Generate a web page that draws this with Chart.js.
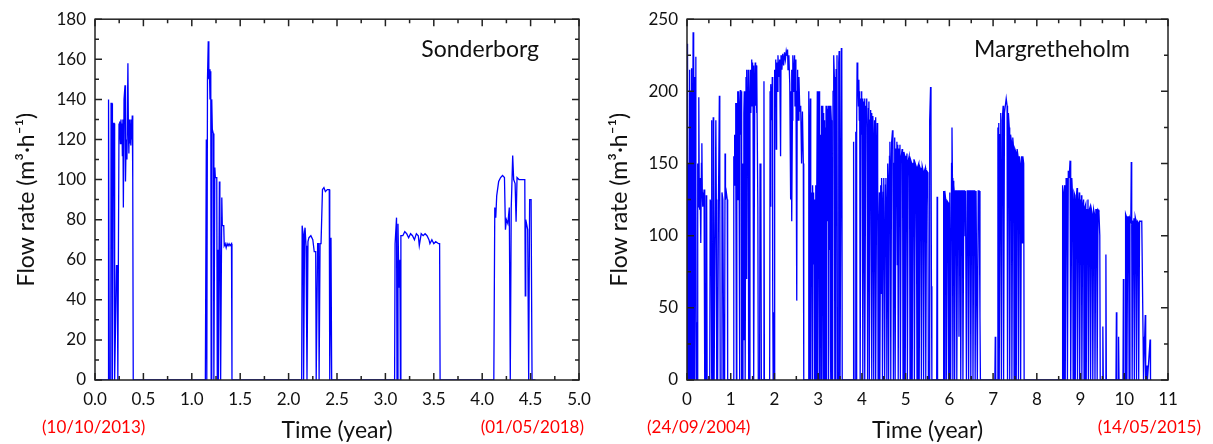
<!DOCTYPE html>
<html lang="en">
<head>
<meta charset="UTF-8">
<title>Flow rate</title>
<script src="https://cdn.jsdelivr.net/npm/chart.js"></script>
<style>
    body { margin: 0; background: #fff; }
    .panel { position: absolute; top: 0; }
</style>
</head>
<body>
<div class="panel" style="left:0"><canvas id="chartSonderborg" width="600" height="444"></canvas></div>
<div class="panel" style="left:600px"><canvas id="chartMarg" width="613" height="444"></canvas></div>

<script>
// [time (year), flow rate (m3/h)]
const sonderborg = [
    [0,0],[0.138,0],[0.14,140],[0.148,0],[0.163,0],[0.166,138],[0.176,138],[0.18,0],[0.188,128],[0.198,128],[0.203,0],
    [0.222,57],[0.23,57],[0.236,0],[0.248,128],[0.253,120],[0.258,129],[0.263,118],[0.268,130],[0.273,122],[0.278,128],
    [0.283,112],[0.288,130],[0.293,86],[0.3,140],[0.31,147],[0.315,99],[0.322,120],[0.33,110],[0.34,158],[0.345,125],
    [0.35,113],[0.355,130],[0.36,118],[0.365,128],[0.37,117],[0.375,130],[0.38,120],[0.385,132],[0.39,100],[0.395,0],
    [1.14,0],[1.15,120],[1.155,0],[1.162,150],[1.17,169],[1.176,150],[1.182,155],[1.188,140],[1.196,154],[1.2,0],
    [1.206,140],[1.212,125],[1.222,123],[1.228,0],[1.238,106],[1.243,101],[1.258,101],[1.263,0],[1.27,65],[1.275,0],
    [1.285,99],[1.29,92],[1.298,0],[1.31,91],[1.315,77],[1.33,77],[1.335,67],[1.345,68],[1.355,66],[1.365,68],
    [1.375,67],[1.385,68],[1.395,67],[1.41,68],[1.415,0],
    [2.135,0],[2.14,77],[2.15,73],[2.155,0],[2.165,74],[2.17,76],[2.18,67],[2.19,0],[2.2,69],[2.21,71],[2.23,72],
    [2.25,70],[2.265,64],[2.28,64],[2.285,0],[2.3,68],[2.31,68],[2.315,0],[2.325,68],[2.335,68],[2.35,95],[2.365,96],
    [2.38,94],[2.4,95],[2.42,95],[2.425,0],[2.438,71],[2.445,0],
    [3.095,0],[3.1,68],[3.115,81],[3.12,0],[3.13,78],[3.14,46],[3.15,60],[3.155,0],[3.16,72],[3.18,72],[3.2,74],
    [3.22,73],[3.24,71],[3.26,73],[3.28,72],[3.3,70],[3.32,73],[3.34,72],[3.35,67],[3.37,73],[3.39,72],[3.41,73],
    [3.43,72],[3.45,70],[3.46,68],[3.48,70],[3.5,68],[3.52,69],[3.55,68],[3.56,68],[3.565,0],
    [4.12,0],[4.13,86],[4.14,81],[4.15,92],[4.17,99],[4.19,101],[4.21,102],[4.23,101],[4.24,75],[4.25,80],
    [4.265,78],[4.28,86],[4.29,0],[4.3,86],[4.315,112],[4.325,100],[4.34,98],[4.35,79],[4.36,101],[4.38,100],
    [4.44,100],[4.445,42],[4.45,80],[4.47,75],[4.48,0],[4.49,90],[4.505,90],[4.515,0],[4.55,0]
];

const margretheholm = [
    [0,0],[0.005,233],[0.008,120],[0.01,175],[0.015,70],[0.02,230],[0.025,100],[0.03,0],[0.035,150],[0.04,0],
    [0.045,130],[0.05,0],[0.055,210],[0.06,0],[0.065,215],[0.07,90],[0.075,140],[0.08,200],[0.085,0],[0.09,180],
    [0.095,0],[0.1,216],[0.105,60],[0.11,135],[0.115,190],[0.12,0],[0.13,130],[0.14,241],[0.145,160],[0.15,0],
    [0.155,120],[0.16,225],[0.165,100],[0.17,140],[0.175,210],[0.18,0],[0.19,200],[0.2,224],[0.205,140],[0.21,40],
    [0.215,0],[0.24,0],[0.245,150],[0.26,120],[0.27,196],[0.28,130],[0.29,118],[0.3,140],[0.31,135],[0.32,95],
    [0.33,150],[0.34,164],[0.35,130],[0.36,120],[0.37,127],[0.38,125],[0.39,132],[0.4,125],[0.41,0],[0.43,0],
    [0.44,128],[0.45,122],[0.46,0],[0.5,0],[0.52,0],[0.53,125],[0.55,120],[0.56,180],[0.57,0],[0.59,0],[0.6,182],
    [0.61,120],[0.62,0],[0.64,0],[0.66,180],[0.67,125],[0.68,0],[0.7,0],[0.72,125],[0.74,197],[0.75,125],[0.76,0],
    [0.78,0],[0.8,130],[0.82,125],[0.84,0],[0.86,0],[0.87,157],[0.88,125],[0.9,130],[0.92,125],[0.93,0],
    [1.06,0],[1.07,155],[1.08,135],[1.09,170],[1.1,150],[1.11,192],[1.12,160],[1.13,0],[1.14,192],[1.15,175],
    [1.16,200],[1.17,125],[1.18,200],[1.19,165],[1.2,0],[1.21,185],[1.22,201],[1.23,170],[1.24,200],[1.25,0],
    [1.27,0],[1.28,150],[1.29,28],[1.3,185],[1.31,200],[1.32,175],[1.33,0],[1.35,210],[1.36,215],[1.37,70],
    [1.38,200],[1.39,190],[1.4,215],[1.41,0],[1.43,0],[1.44,200],[1.45,215],[1.46,185],[1.47,210],[1.48,222],
    [1.49,190],[1.5,220],[1.51,195],[1.52,218],[1.53,0],[1.55,205],[1.56,220],[1.57,190],[1.58,218],[1.59,185],
    [1.6,215],[1.62,120],[1.63,0],[1.66,0],[1.67,150],[1.69,135],[1.7,0],[1.75,0],[1.76,207],[1.77,0],[1.89,0],
    [1.9,200],[1.91,120],[1.92,205],[1.94,180],[1.95,210],[1.96,60],[1.97,0],[1.98,47],[1.99,0],[2.0,200],
    [2.01,215],[2.02,195],[2.03,222],[2.04,160],[2.05,220],[2.07,200],[2.08,225],[2.1,210],[2.12,222],[2.14,155],
    [2.15,225],[2.17,215],[2.19,226],[2.21,218],[2.23,227],[2.25,222],[2.27,228],[2.29,225],[2.3,229],[2.31,215],
    [2.33,225],[2.35,205],[2.37,125],[2.38,200],[2.39,215],[2.4,110],[2.41,180],[2.42,225],[2.43,200],[2.44,210],
    [2.46,225],[2.47,190],[2.49,222],[2.51,55],[2.52,200],[2.53,215],[2.54,180],[2.56,210],[2.58,186],[2.6,190],
    [2.62,150],[2.64,186],[2.66,150],[2.67,0],
    [2.77,0],[2.78,200],[2.785,120],[2.79,195],[2.795,90],[2.8,180],[2.805,0],[2.81,150],[2.82,195],[2.825,100],
    [2.83,60],[2.835,0],[2.84,130],[2.845,90],[2.85,130],[2.855,110],[2.86,120],[2.865,0],[2.87,100],[2.88,135],
    [2.885,110],[2.89,80],[2.9,130],[2.905,100],[2.91,0],[2.915,110],[2.92,125],[2.925,95],[2.93,0],[2.94,120],
    [2.95,135],[2.96,30],[2.965,0],[2.97,130],[2.98,200],[2.985,110],[2.99,150],[2.995,0],[3.0,90],[3.01,150],
    [3.02,200],[3.025,100],[3.03,170],[3.035,0],[3.04,120],[3.05,170],[3.06,50],[3.065,0],[3.07,190],[3.075,110],
    [3.08,185],[3.085,0],[3.09,120],[3.1,190],[3.105,100],[3.11,175],[3.115,0],[3.12,130],[3.13,185],[3.135,80],
    [3.14,180],[3.145,0],[3.15,140],[3.16,175],[3.17,30],[3.175,0],[3.18,190],[3.185,120],[3.19,185],[3.195,0],
    [3.2,150],[3.21,188],[3.215,110],[3.22,170],[3.23,190],[3.235,0],[3.24,140],[3.25,185],[3.26,190],[3.265,90],
    [3.27,185],[3.28,25],[3.285,0],[3.29,190],[3.3,180],[3.305,120],[3.31,0],[3.33,0],[3.34,200],[3.35,220],
    [3.36,225],[3.37,210],[3.38,0],[3.4,0],[3.41,215],[3.43,225],[3.44,0],[3.46,0],[3.47,220],[3.48,228],
    [3.49,200],[3.5,0],[3.52,0],[3.53,230],[3.54,225],[3.55,0],
    [3.8,0],[3.81,165],[3.82,0],[3.85,0],[3.86,172],[3.87,0],[3.88,175],[3.89,220],[3.9,205],[3.91,210],[3.92,190],
    [3.93,208],[3.94,180],[3.95,200],[3.96,0],[3.98,195],[3.99,200],[4.0,170],[4.01,195],[4.02,0],[4.04,193],
    [4.05,160],[4.06,195],[4.07,0],[4.09,190],[4.1,185],[4.11,195],[4.12,175],[4.13,0],[4.15,188],[4.16,193],
    [4.17,0],[4.19,180],[4.2,187],[4.21,150],[4.22,185],[4.23,0],[4.25,183],[4.26,170],[4.27,0],[4.29,180],
    [4.3,175],[4.31,182],[4.32,0],[4.34,160],[4.35,178],[4.36,150],[4.37,0],[4.39,110],[4.4,130],[4.41,0],
    [4.43,135],[4.44,60],[4.45,140],[4.46,125],[4.47,0],[4.49,130],[4.5,140],[4.51,95],[4.52,0],[4.54,135],
    [4.55,140],[4.56,120],[4.57,0],[4.59,150],[4.6,140],[4.61,0],[4.63,155],[4.64,165],[4.65,150],[4.66,0],
    [4.68,165],[4.7,173],[4.71,160],[4.72,0],[4.74,150],[4.75,168],[4.76,0],[4.78,160],[4.8,165],[4.81,80],
    [4.82,163],[4.83,0],[4.85,160],[4.87,163],[4.88,0],[4.9,155],[4.92,160],[4.93,150],[4.94,0],[4.96,158],
    [4.98,155],[4.99,0],[5.01,155],[5.03,157],[5.04,0],[5.06,152],[5.08,155],[5.09,140],[5.1,0],[5.12,152],
    [5.14,150],[5.15,0],[5.17,150],[5.19,153],[5.2,0],[5.22,150],[5.24,148],[5.25,90],[5.26,0],[5.28,148],
    [5.3,150],[5.31,0],[5.33,147],[5.35,145],[5.36,0],[5.38,148],[5.4,145],[5.41,0],[5.43,145],[5.45,147],
    [5.46,0],[5.48,145],[5.5,144],[5.51,120],[5.52,0],[5.54,0],[5.55,180],[5.57,203],[5.58,180],[5.59,65],[5.6,0],
    [5.71,0],[5.72,127],[5.73,0],[5.86,0],[5.87,131],[5.88,125],[5.89,0],[5.9,131],[5.92,124],[5.93,0],[5.95,124],
    [5.97,123],[5.98,0],[6.0,0],[6.01,130],[6.03,0],[6.05,150],[6.06,175],[6.07,140],[6.08,0],[6.09,138],
    [6.1,135],[6.11,131],[6.12,0],[6.14,131],[6.16,131],[6.17,0],[6.19,131],[6.21,131],[6.22,30],[6.23,131],
    [6.25,131],[6.26,0],[6.28,131],[6.3,131],[6.31,0],[6.33,131],[6.35,131],[6.36,100],[6.37,131],[6.39,0],
    [6.41,131],[6.43,131],[6.44,0],[6.46,131],[6.48,131],[6.49,0],[6.51,131],[6.53,131],[6.54,0],[6.56,131],
    [6.58,131],[6.59,0],[6.61,131],[6.63,131],[6.64,0],[6.66,131],[6.68,131],[6.7,44],[6.71,0],
    [7.04,0],[7.05,30],[7.06,0],[7.1,0],[7.11,175],[7.12,165],[7.13,178],[7.14,0],[7.16,170],[7.17,185],[7.18,175],
    [7.19,0],[7.21,180],[7.23,190],[7.24,0],[7.26,185],[7.28,190],[7.3,195],[7.32,190],[7.33,0],[7.35,185],
    [7.37,175],[7.38,0],[7.4,170],[7.42,165],[7.43,0],[7.45,168],[7.47,160],[7.48,0],[7.5,160],[7.52,158],
    [7.53,0],[7.55,160],[7.57,155],[7.58,0],[7.6,155],[7.62,150],[7.63,0],[7.65,155],[7.67,95],[7.68,155],
    [7.7,150],[7.71,0],
    [8.58,0],[8.59,135],[8.6,0],[8.62,130],[8.64,135],[8.65,0],[8.67,140],[8.69,132],[8.7,0],[8.72,145],[8.74,140],
    [8.76,152],[8.77,140],[8.78,0],[8.8,140],[8.82,125],[8.83,0],[8.85,130],[8.87,128],[8.88,0],[8.9,125],
    [8.92,133],[8.93,0],[8.95,120],[8.97,130],[8.98,0],[9.0,125],[9.01,80],[9.02,128],[9.03,0],[9.05,120],
    [9.07,125],[9.08,0],[9.1,120],[9.12,122],[9.13,0],[9.15,118],[9.17,125],[9.18,0],[9.2,118],[9.22,120],
    [9.23,0],[9.25,118],[9.27,115],[9.28,0],[9.3,118],[9.32,115],[9.33,0],[9.35,118],[9.37,118],[9.38,0],
    [9.4,118],[9.42,117],[9.44,100],[9.45,0],[9.5,0],[9.51,37],[9.52,0],[9.57,0],[9.58,87],[9.59,0],
    [9.81,0],[9.82,47],[9.83,0],[9.86,0],[9.87,30],[9.88,0],[9.97,0],[9.98,70],[9.99,0],[10.02,0],[10.03,115],
    [10.05,113],[10.06,0],[10.08,113],[10.1,113],[10.11,0],[10.13,112],[10.15,110],[10.16,151],[10.17,110],
    [10.18,0],[10.2,110],[10.22,112],[10.23,0],[10.25,113],[10.27,110],[10.28,0],[10.3,110],[10.32,109],
    [10.33,0],[10.35,110],[10.37,110],[10.4,110],[10.43,30],[10.44,0],[10.48,45],[10.49,0],[10.52,10],[10.53,0],
    [10.59,28],[10.6,0],[10.62,0]
];

const stationNames = ['Sonderborg', 'Margretheholm'];
const startDates = ['(10/10/2013)', '(24/09/2004)'];
const endDates = ['(01/05/2018)', '(14/05/2015)'];

const FONT = 'Lato, "Open Sans", sans-serif';

// inward ticks on all four sides + frame + labels
const framePlugin = {
    id: 'frameTicks',
    afterDraw(chart, args, opts) {
        const ctx = chart.ctx;
        const a = chart.chartArea;
        const xs = chart.scales.x, ys = chart.scales.y;
        ctx.save();
        ctx.strokeStyle = '#222';
        ctx.lineWidth = 1.5;
        ctx.beginPath();
        for (let v = xs.min; v <= xs.max + 1e-9; v += opts.minorX) {
            const px = xs.getPixelForValue(v);
            const major = Math.abs(v / opts.majorX - Math.round(v / opts.majorX)) < 1e-6;
            const len = major ? 7 : 4;
            ctx.moveTo(px, a.bottom); ctx.lineTo(px, a.bottom - len);
            ctx.moveTo(px, a.top); ctx.lineTo(px, a.top + len);
        }
        for (let v = ys.min; v <= ys.max + 1e-9; v += opts.minorY) {
            const py = ys.getPixelForValue(v);
            const major = Math.abs(v / opts.majorY - Math.round(v / opts.majorY)) < 1e-6;
            const len = major ? 7 : 4;
            ctx.moveTo(a.left, py); ctx.lineTo(a.left + len, py);
            ctx.moveTo(a.right, py); ctx.lineTo(a.right - len, py);
        }
        ctx.stroke();
        ctx.strokeRect(a.left, a.top, a.right - a.left, a.bottom - a.top);

        ctx.fillStyle = '#111';
        ctx.font = '23px ' + FONT;
        ctx.textAlign = 'right';
        ctx.textBaseline = 'middle';
        ctx.fillText(opts.name, a.right - opts.nameOffset, 50);

        ctx.fillStyle = '#ff0000';
        ctx.font = '17px ' + FONT;
        ctx.textAlign = 'left';
        ctx.fillText(opts.start, opts.startX, 428);
        ctx.textAlign = 'right';
        ctx.fillText(opts.end, opts.endX, 428);
        ctx.restore();
    }
};

function makeChart(canvasId, points, cfg) {
    const ctx = document.getElementById(canvasId).getContext('2d');
    return new Chart(ctx, {
        type: 'line',
        data: {
            datasets: [{
                data: points.map(p => ({ x: p[0], y: p[1] })),
                borderColor: 'rgb(0,0,255)',
                borderWidth: 1.3,
                pointRadius: 0,
                tension: 0,
                fill: false
            }]
        },
        options: {
            responsive: false,
            animation: false,
            devicePixelRatio: 1,
            layout: { padding: { top: 17, right: cfg.padRight, left: 0, bottom: 0 } },
            plugins: {
                legend: { display: false },
                tooltip: { enabled: false },
                frameTicks: cfg.frame
            },
            scales: {
                x: {
                    type: 'linear',
                    min: 0, max: cfg.xMax,
                    grid: { display: false, drawTicks: false },
                    border: { display: false },
                    afterFit: s => { s.height = 64; },
                    ticks: {
                        stepSize: cfg.xStep,
                        padding: 9,
                        color: '#111',
                        font: { family: FONT, size: 17 },
                        maxRotation: 0,
                        callback: cfg.xFmt
                    },
                    title: {
                        display: true,
                        text: 'Time (year)',
                        color: '#111',
                        font: { family: FONT, size: 23 },
                        padding: { top: 0, bottom: 0 }
                    }
                },
                y: {
                    min: 0, max: cfg.yMax,
                    grid: { display: false, drawTicks: false },
                    border: { display: false },
                    afterFit: s => { s.width = cfg.yWidth; },
                    ticks: {
                        stepSize: cfg.yStep,
                        padding: 9,
                        color: '#111',
                        font: { family: FONT, size: 17 }
                    },
                    title: {
                        display: true,
                        text: 'Flow rate (m³·h⁻¹)',
                        color: '#111',
                        font: { family: FONT, size: 23 },
                        padding: { top: cfg.yTitlePad, bottom: 0 }
                    }
                }
            }
        },
        plugins: [framePlugin]
    });
}

makeChart('chartSonderborg', sonderborg, {
    xMax: 5, xStep: 0.5, yMax: 180, yStep: 20,
    xFmt: v => Number(v).toFixed(1),
    yWidth: 95, padRight: 21, yTitlePad: 13,
    frame: { majorX: 0.5, minorX: 0.25, majorY: 20, minorY: 10,
             name: stationNames[0], nameOffset: 40,
             start: startDates[0], startX: 42, end: endDates[0], endX: 584 }
});

makeChart('chartMarg', margretheholm, {
    xMax: 11, xStep: 1, yMax: 250, yStep: 50,
    xFmt: v => String(v),
    yWidth: 87, padRight: 45, yTitlePad: 6,
    frame: { majorX: 1, minorX: 0.5, majorY: 50, minorY: 25,
             name: stationNames[1], nameOffset: 38,
             start: startDates[1], startX: 47, end: endDates[1], endX: 601 }
});
</script>
</body>
</html>
